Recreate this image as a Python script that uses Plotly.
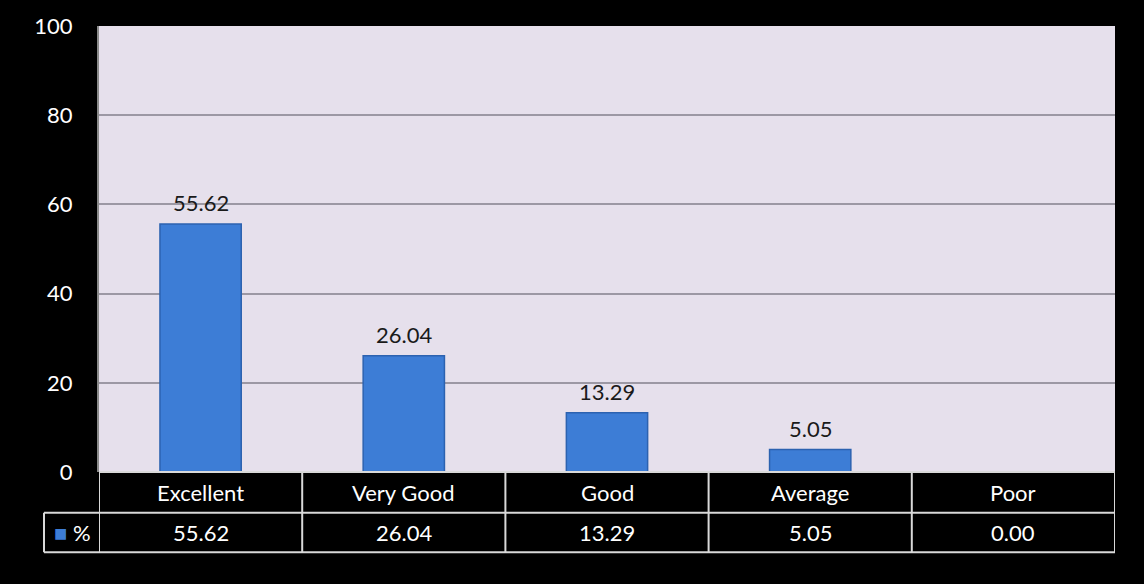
import plotly.graph_objects as go

categories = ["Excellent", "Very Good", "Good", "Average", "Poor"]
values = [55.62, 26.04, 13.29, 5.05, 0.00]
series_name = "%"
y_ticks = [0, 20, 40, 60, 80, 100]

FONT = "Lato, 'Open Sans', sans-serif"
BAR = "#3d7dd6"
FS = 22

fig = go.Figure()
fig.add_trace(go.Bar(
    x=categories, y=values, name=series_name,
    marker=dict(color=BAR, line=dict(color="#2c62b0", width=1.5)),
    width=0.40,
    showlegend=False,
))

W, H = 1144, 584
ml, mr, mt, mb = 99, 29, 22, 112
ph = H - mt - mb
pw = W - ml - mr

def py(px_below):  # pixels below plot bottom -> paper y
    return -px_below / ph

def px_left(px):  # pixels left of plot left -> paper x
    return -px / pw

n = len(categories)
shapes = []
line = dict(color="#d9d9d9", width=2)
shapes.append(dict(type="line", xref="paper", yref="paper", x0=0, x1=1, y0=0, y1=0, line=line))
for yb in (41, 81):
    shapes.append(dict(type="line", xref="paper", yref="paper", x0=px_left(55), x1=1,
                       y0=py(yb), y1=py(yb), line=line))
for i in range(n + 1):
    shapes.append(dict(type="line", xref="x", yref="paper", x0=i - 0.5, x1=i - 0.5,
                       y0=0, y1=py(81), line=line))
shapes.append(dict(type="line", xref="paper", yref="paper", x0=px_left(55), x1=px_left(55),
                   y0=py(41), y1=py(81), line=line))

annotations = []
for i, c in enumerate(categories):
    if values[i] > 0:
        annotations.append(dict(x=c, xref="x", y=values[i], yref="y", text=f"{values[i]:.2f}",
                                showarrow=False, yshift=21, yanchor="middle",
                                font=dict(color="#1a1a1a", size=FS, family=FONT)))
    annotations.append(dict(x=c, xref="x", y=py(20.5), yref="paper", text=c, showarrow=False,
                            font=dict(color="white", size=FS, family=FONT), yanchor="middle"))
    annotations.append(dict(x=c, xref="x", y=py(61), yref="paper", text=f"{values[i]:.2f}",
                            showarrow=False, font=dict(color="white", size=FS, family=FONT),
                            yanchor="middle"))
annotations.append(dict(x=px_left(27), xref="paper", y=py(61), yref="paper",
                        text=f'<span style="color:{BAR};font-size:22px">■</span> {series_name}',
                        showarrow=False, font=dict(color="white", size=FS, family=FONT),
                        yanchor="middle", xanchor="center"))

fig.update_layout(
    width=W, height=H,
    margin=dict(l=ml, r=mr, t=mt, b=mb),
    paper_bgcolor="black",
    plot_bgcolor="#e6e0ec",
    xaxis=dict(showticklabels=False, showgrid=False, zeroline=False, showline=False,
               range=[-0.5, n - 0.5], fixedrange=True),
    yaxis=dict(range=[0, 100], tickvals=y_ticks, showgrid=True, gridcolor="#9c98a4", gridwidth=1.5,
               zeroline=False, showline=True, linecolor="#8a8a8a", linewidth=2,
               tickfont=dict(color="white", size=FS, family=FONT), ticks="", ticklabelstandoff=20,
               fixedrange=True),
    shapes=shapes,
    annotations=annotations,
)

fig.write_html("out.html", config={"displayModeBar": False},
               post_script="document.body.style.margin='0';document.body.style.overflow='hidden';")
